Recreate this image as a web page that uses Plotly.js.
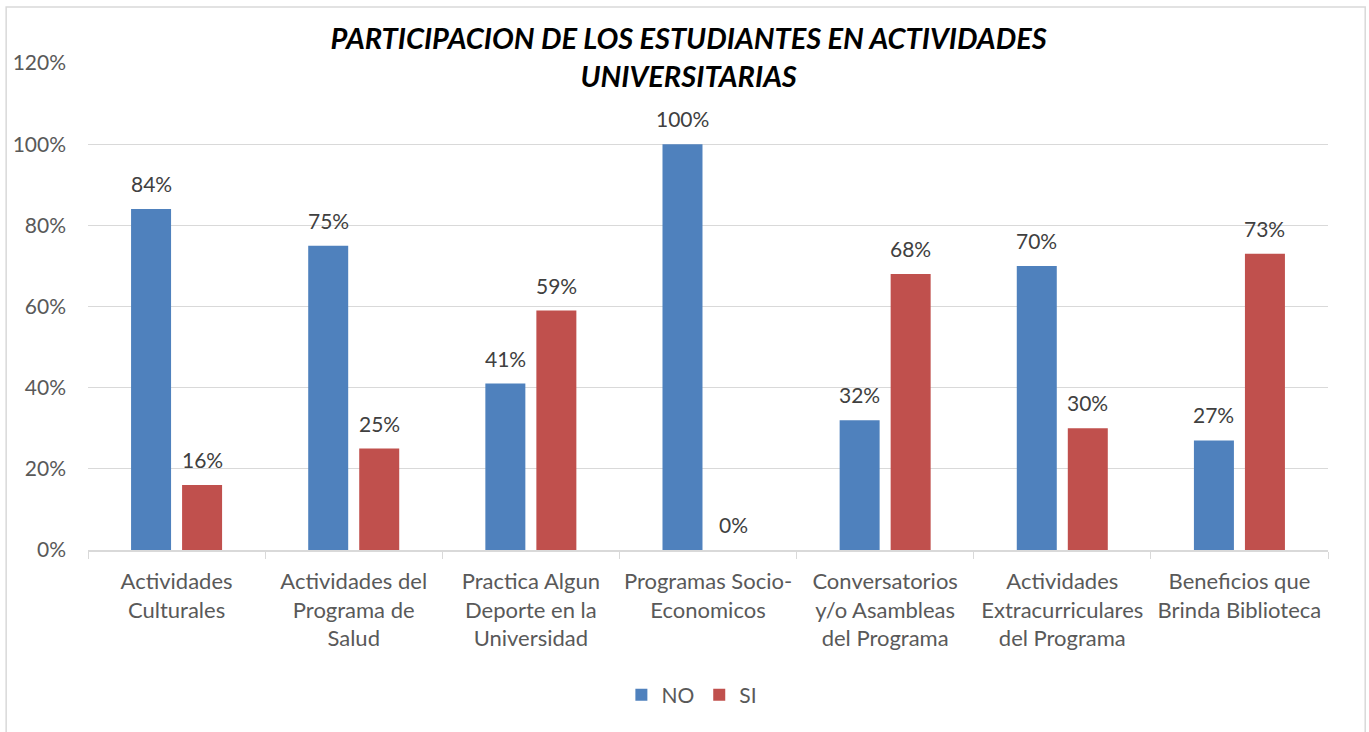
<!DOCTYPE html>
<html>
<head>
<meta charset="utf-8">
<script src="https://cdn.plot.ly/plotly-3.0.1.min.js"></script>
<style>html,body{margin:0;padding:0;background:#fff;}#chart{width:1369px;height:732px;}</style>
</head>
<body>
<div id="chart"></div>
<script>
const categories = [
  "Actividades<br>Culturales",
  "Actividades del<br>Programa de<br>Salud",
  "Practica Algun<br>Deporte en la<br>Universidad",
  "Programas Socio-<br>Economicos",
  "Conversatorios<br>y/o Asambleas<br>del Programa",
  "Actividades<br>Extracurriculares<br>del Programa",
  "Beneficios que<br>Brinda Biblioteca"
];
const noValues = [0.84, 0.75, 0.41, 1.00, 0.32, 0.70, 0.27];
const siValues = [0.16, 0.25, 0.59, 0.00, 0.68, 0.30, 0.73];
const yTickVals = [0, 0.2, 0.4, 0.6, 0.8, 1.0, 1.2];
const yTickText = ["0%", "20%", "40%", "60%", "80%", "100%", "120%"];

const fontFam = "Lato, 'Open Sans', sans-serif";
const pct = v => Math.round(v * 100) + "%";

const traces = [
  {type: "bar", name: "NO", x: categories, y: noValues,
   marker: {color: "#4f81bd"}, hoverinfo: "y"},
  {type: "bar", name: "SI", x: categories, y: siValues,
   marker: {color: "#c0504d"}, hoverinfo: "y"}
];

// data labels placed through the axes from the data arrays
const labelFont = {family: fontFam, size: 21, color: "#404040"};
const annotations = [];
categories.forEach((c, i) => {
  annotations.push({x: c, y: noValues[i], xref: "x", yref: "y", text: pct(noValues[i]),
    showarrow: false, xshift: -25.5, yshift: 11, yanchor: "bottom", font: labelFont});
  annotations.push({x: c, y: siValues[i], xref: "x", yref: "y", text: pct(siValues[i]),
    showarrow: false, xshift: 25.5, yshift: 11, yanchor: "bottom", font: labelFont});
});

const layout = {
  width: 1369, height: 732,
  margin: {l: 88, r: 41, t: 63, b: 182},
  paper_bgcolor: "#fff", plot_bgcolor: "#fff",
  font: {family: fontFam, size: 20, color: "#595959"},
  title: {
    text: "<b><i>PARTICIPACION DE LOS ESTUDIANTES EN ACTIVIDADES<br>UNIVERSITARIAS</i></b>",
    font: {family: fontFam, size: 29, color: "#000"},
    x: 0.503, xanchor: "center", y: 0.933, yanchor: "middle", yref: "container"
  },
  barmode: "group", bargap: 0.424, bargroupgap: 0.216,
  xaxis: {
    showline: true, linecolor: "#d9d9d9", linewidth: 1.5,
    ticks: "outside", tickson: "boundaries", ticklen: 7, tickcolor: "#d9d9d9",
    tickfont: {family: fontFam, size: 22, color: "#595959"},
    ticklabelstandoff: 11,
    showgrid: false, fixedrange: true, tickangle: 0
  },
  yaxis: {
    range: [0, 1.2], tickvals: yTickVals, ticktext: yTickText,
    showgrid: true, gridcolor: "#d9d9d9", gridwidth: 1.2,
    zeroline: false, showline: false, ticks: "",
    tickfont: {family: fontFam, size: 21, color: "#595959"},
    ticklabelstandoff: 21,
    fixedrange: true
  },
  legend: {
    orientation: "h", x: 0.487, xanchor: "center", y: -0.256, yanchor: "top",
    font: {family: fontFam, size: 21, color: "#595959"},
    itemwidth: 30
  },
  annotations: annotations,
  shapes: [{
    type: "rect", xref: "paper", yref: "paper",
    x0: -0.066, x1: 1.030, y0: -0.40, y1: 1.115,
    line: {color: "#d9d9d9", width: 1.5}, fillcolor: "rgba(0,0,0,0)", layer: "below"
  }]
};

Plotly.newPlot("chart", traces, layout, {displayModeBar: false, staticPlot: true});
</script>
</body>
</html>
